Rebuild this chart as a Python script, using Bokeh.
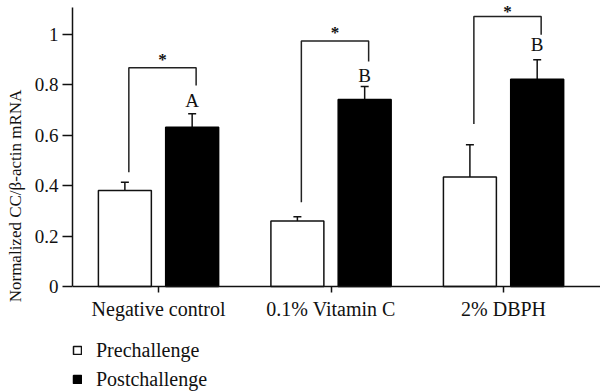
from bokeh.plotting import figure
from bokeh.models import (ColumnDataSource, FixedTicker, Whisker, TeeHead, Legend,
                          LegendItem, Range1d, LinearAxis)
from bokeh.core.properties import value
from bokeh.embed import file_html
from bokeh.resources import INLINE

categories = ["Negative control", "0.1% Vitamin C", "2% DBPH"]
pre_mean = [0.38, 0.259, 0.434]
pre_err = [0.033, 0.017, 0.127]
post_mean = [0.631, 0.741, 0.821]
post_err = [0.053, 0.051, 0.077]
letters = ["A", "B", "B"]
letter_y = [0.735, 0.837, 0.959]
bracket_top = [0.866, 0.972, 1.069]
bracket_left_bottom = [0.453, 0.334, 0.644]
bracket_right_bottom = [0.796, 0.891, 0.997]
star_y = [0.899, 1.006, 1.09]
y_ticks = [0, 0.2, 0.4, 0.6, 0.8, 1.0]
y_tick_labels = ["0", "0.2", "0.4", "0.6", "0.8", "1"]
y_title = "Normalized CC/\u03b2-actin mRNA"

FONT = "Liberation Serif"
OFF = 0.195
BW = 0.307
SHIFT = 0.023
Y_TOP = 1.1327
Y_AXIS_TOP = 1.105
Y_BOTTOM = -0.4158

idx = list(range(len(categories)))
pre_x = [i - OFF for i in idx]
post_x = [i + OFF for i in idx]

p = figure(width=600, height=391, output_backend="svg",
           toolbar_location=None, x_range=Range1d(-0.4986, 2.562),
           y_range=Range1d(Y_BOTTOM, Y_TOP), min_border_top=0, min_border_right=0,
           min_border_left=72, min_border_bottom=0)
p.outline_line_color = None
p.grid.visible = False
p.background_fill_color = "white"

pre_src = ColumnDataSource(dict(x=pre_x, top=pre_mean,
                                lower=[m - e for m, e in zip(pre_mean, pre_err)],
                                upper=[m + e for m, e in zip(pre_mean, pre_err)]))
post_src = ColumnDataSource(dict(x=post_x, top=post_mean,
                                 lower=[m - e for m, e in zip(post_mean, post_err)],
                                 upper=[m + e for m, e in zip(post_mean, post_err)]))

r_pre = p.vbar(x="x", top="top", bottom=0, width=BW, source=pre_src, fill_color="white",
               line_color="#111111", line_width=1.5)
r_post = p.vbar(x="x", top="top", bottom=0, width=BW, source=post_src, fill_color="black",
                line_color="black", line_width=1.5)

for src in (pre_src, post_src):
    w = Whisker(base="x", lower="lower", upper="upper", source=src,
                line_color="#111111", line_width=1.5,
                upper_head=TeeHead(size=8, line_width=1.5, line_color="#111111"),
                lower_head=TeeHead(size=8, line_width=1.5, line_color="#111111"))
    p.add_layout(w)

# significance brackets
xs = []
ys = []
for i in idx:
    xl = pre_x[i] + SHIFT
    xr = post_x[i] + SHIFT
    xs.append([xl, xl, xr, xr])
    ys.append([bracket_left_bottom[i], bracket_top[i], bracket_top[i], bracket_right_bottom[i]])
p.multi_line(xs=xs, ys=ys, line_color="#222222", line_width=1.5)

p.text(x=[i + SHIFT for i in idx], y=star_y, text=["*"] * 3,
       text_font=value(FONT), text_font_size="17px", text_font_style="bold",
       text_align="center", text_baseline="middle", text_color="#111111")
p.text(x=post_x, y=letter_y, text=letters, text_font=value(FONT),
       text_font_size="19px", text_align="center", text_baseline="middle",
       text_color="#111111")

# axes
p.yaxis.ticker = FixedTicker(ticks=y_ticks)
p.yaxis.major_label_overrides = {t: l for t, l in zip(y_ticks, y_tick_labels)}
p.yaxis.bounds = (0, Y_AXIS_TOP)
p.xaxis.ticker = FixedTicker(ticks=idx)
p.xaxis.major_label_overrides = {i: c for i, c in zip(idx, categories)}
p.xaxis.fixed_location = 0
for ax in (p.xaxis[0], p.yaxis[0]):
    ax.minor_tick_line_color = None
    ax.major_tick_in = 0
    ax.axis_line_color = "#111111"
    ax.axis_line_width = 1.5
    ax.major_tick_line_color = "#111111"
    ax.major_tick_line_width = 1.5
    ax.major_label_text_font = FONT
    ax.major_label_text_color = "#111111"
p.yaxis.major_label_text_font_size = "19px"
p.xaxis.major_label_text_font_size = "20px"
p.yaxis.major_tick_out = 10
p.yaxis.major_label_standoff = 4
p.xaxis.major_tick_out = 6
p.xaxis.major_label_standoff = 5

# axis carrying only the y title, placed outside the value axis
title_axis = LinearAxis(ticker=FixedTicker(ticks=[]), bounds=(0.119, Y_TOP),
                        axis_line_color=None, major_tick_line_color=None,
                        minor_tick_line_color=None, major_tick_out=0, major_tick_in=0,
                        major_label_text_font_size="0px", axis_label=y_title,
                        axis_label_standoff=7, axis_label_text_font=FONT,
                        axis_label_text_font_size="17px",
                        axis_label_text_font_style="normal",
                        axis_label_text_color="#111111")
p.add_layout(title_axis, "left")

legend = Legend(items=[LegendItem(label="Prechallenge", renderers=[r_pre]),
                       LegendItem(label="Postchallenge", renderers=[r_post])],
                location=(0, 0), orientation="vertical",
                border_line_color=None, background_fill_alpha=0,
                glyph_width=10, glyph_height=10, label_height=24, spacing=5,
                label_standoff=14, padding=0, margin=0,
                label_text_font=FONT, label_text_font_size="20px",
                label_text_color="#111111")
p.add_layout(legend)

open("out.html", "w").write(file_html(p, INLINE))
